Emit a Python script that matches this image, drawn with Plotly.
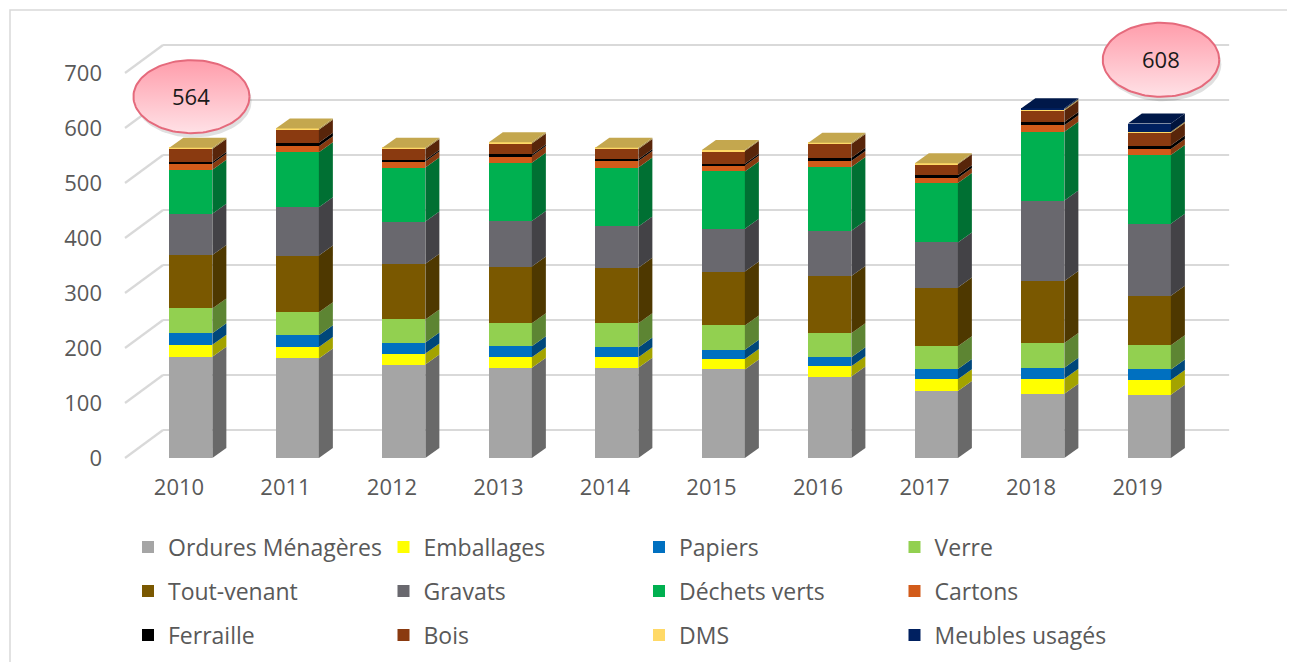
import numpy as np
import plotly.graph_objects as go

years = ["2010", "2011", "2012", "2013", "2014", "2015", "2016", "2017", "2018", "2019"]

ordures = [184, 181, 170, 164, 164, 161, 148, 122, 117, 115]
emballages = [22, 21, 20, 19, 19, 19, 19, 21, 27, 27]
papiers = [21, 21, 20, 20, 18, 17, 16, 19, 20, 19]
verre = [45, 42, 42, 42, 44, 44, 44, 41, 45, 44]
tout_venant = [97, 103, 101, 103, 101, 98, 104, 107, 113, 90]
gravats = [75, 88, 77, 83, 75, 78, 82, 82, 146, 131]
dechets_verts = [80, 100, 98, 106, 107, 104, 116, 108, 125, 125]
cartons = [11, 11, 11, 12, 12, 11, 11, 9, 12, 11]
ferraille = [3, 6, 3, 3, 3, 3, 6, 5, 6, 6]
bois = [24, 24, 20, 20, 19, 23, 25, 20, 21, 23]
dms = [2, 2, 2, 2, 2, 2, 2, 2, 2, 2]
meubles = [0, 0, 0, 0, 0, 0, 0, 0, 2, 15]

series_names = ["Ordures Ménagères", "Emballages", "Papiers", "Verre",
                "Tout-venant", "Gravats", "Déchets verts", "Cartons",
                "Ferraille", "Bois", "DMS", "Meubles usagés"]
series_values = [ordures, emballages, papiers, verre, tout_venant, gravats,
                 dechets_verts, cartons, ferraille, bois, dms, meubles]
series_colors = ["#A5A5A5", "#FFFF00", "#0070C0", "#92D050", "#7A5800", "#69686E",
                 "#00B050", "#D25B1A", "#000000", "#8A3A10", "#FFD966", "#002060"]

callout_years = ["2010", "2019"]
callout_labels = ["564", "608"]

# ---------------- geometry / style ----------------
PAGE = 8                      # default body margin of the html page
W, H = 1295 - PAGE, 662 - PAGE
ML, MT = 105 - PAGE, 12 - PAGE
MR = W - (1240 - PAGE)
MB = H - (460 - PAGE)
XR = [-0.695, 9.962]
YR = [-3.636, 810.9]
BAR_W, BAR_OFF = 0.404, -0.091
DX, DY = 0.1315, 18.2          # bar depth (x units, y units)
GX0, GX1, GY = -0.507, -0.15, 50.9   # floor/back-wall depth for grid
GRID_END = 9.86
FONT = "Open Sans"
TXT = "#595959"


def shade(hexc, f):
    h = hexc.lstrip("#")
    r, g, b = (int(h[i:i + 2], 16) for i in (0, 2, 4))
    return "#%02X%02X%02X" % (int(r * f), int(g * f), int(b * f))


idx = list(range(len(years)))
fig = go.Figure()

row_of = [1, 1, 1, 1, 2, 2, 2, 2, 3, 3, 3, 3]
for name, vals, col, row in zip(series_names, series_values, series_colors, row_of):
    fig.add_trace(go.Bar(
        x=idx, y=vals, name=name, width=BAR_W, offset=BAR_OFF,
        marker=dict(color=col, line=dict(width=0)),
        legend="legend" if row == 1 else "legend%d" % row,
        hovertemplate="%{customdata}<br>" + name + ": %{y}<extra></extra>",
        customdata=years,
    ))

shapes = []
# back-wall grid lines with floor diagonals
for v in range(0, 701, 100):
    for (xa, ya, xb, yb) in [(GX0, v, GX1, v + GY), (GX1, v + GY, GRID_END, v + GY)]:
        shapes.append(dict(type="line", xref="x", yref="y", x0=xa, y0=ya, x1=xb, y1=yb,
                           line=dict(color="#D9D9D9", width=2.2), layer="below"))

# 3D side faces and top faces of the bars
for i in idx:
    xl = i + BAR_OFF
    xr = xl + BAR_W
    base = 0.0
    top_col = None
    for vals, col in zip(series_values, series_colors):
        v = vals[i]
        if v <= 0:
            continue
        y0, y1 = base, base + v
        path = "M %f %f L %f %f L %f %f L %f %f Z" % (
            xr, y0, xr + DX, y0 + DY, xr + DX, y1 + DY, xr, y1)
        shapes.append(dict(type="path", xref="x", yref="y", path=path,
                           fillcolor=shade(col, 0.64), line=dict(width=0), layer="above"))
        base = y1
        top_col = col
    path = "M %f %f L %f %f L %f %f L %f %f Z" % (
        xl, base, xl + DX, base + DY, xr + DX, base + DY, xr, base)
    shapes.append(dict(type="path", xref="x", yref="y", path=path,
                       fillcolor=shade(top_col, 0.77), line=dict(width=0), layer="above"))

# screen pixel -> paper coordinates
px2paper_x = lambda p: (p - PAGE - ML) / (W - ML - MR)
px2paper_y = lambda p: (H - MB - (p - PAGE)) / (H - MB - MT)

# outer frame
shapes.append(dict(type="rect", xref="paper", yref="paper",
                   x0=px2paper_x(10), x1=px2paper_x(1289),
                   y0=px2paper_y(10), y1=px2paper_y(700),
                   line=dict(color="#D9D9D9", width=1.5), fillcolor="rgba(0,0,0,0)"))

# callout ellipses
callout_pos = [(0.117, 93.0, 0.545, 66.4), (0.22, 116.0, 0.547, 67.3)]
t = np.linspace(0, 2 * np.pi, 120)
annotations = []
for yr, lab, (ox, oy, rx, ry) in zip(callout_years, callout_labels, callout_pos):
    i = years.index(yr)
    total = sum(s[i] for s in series_values)
    cx, cy = i + ox, total + oy
    # shadow
    fig.add_trace(go.Scatter(x=cx + 0.02 + rx * np.cos(t), y=cy - 8 + ry * np.sin(t),
                             mode="lines", fill="toself", line=dict(width=0),
                             fillcolor="rgba(0,0,0,0.12)", showlegend=False, hoverinfo="skip"))
    fig.add_trace(go.Scatter(x=cx + rx * np.cos(t), y=cy + ry * np.sin(t),
                             mode="lines", fill="toself",
                             line=dict(color="#E56A7C", width=2),
                             fillgradient=dict(type="vertical",
                                               colorscale=[[0, "#FFE1E6"], [1, "#FF9DAB"]]),
                             showlegend=False, hoverinfo="skip"))
    annotations.append(dict(x=cx, y=cy + 2, xref="x", yref="y", text=lab, showarrow=False,
                            font=dict(family=FONT, size=22, color="#1A1A1A")))

leg_common = dict(orientation="h", xanchor="left", yanchor="middle",
                  traceorder="normal",
                  font=dict(family=FONT, size=23, color=TXT),
                  entrywidth=210.5, entrywidthmode="pixels",
                  bgcolor="rgba(0,0,0,0)", itemclick=False, itemdoubleclick=False)
legx = px2paper_x(128)

fig.update_layout(
    width=W, height=H, autosize=False,
    margin=dict(l=ML, r=MR, t=MT, b=MB, autoexpand=False),
    paper_bgcolor="white", plot_bgcolor="white",
    barmode="stack", bargap=0,
    font=dict(family=FONT, color=TXT),
    xaxis=dict(type="linear", range=XR, tickvals=idx, ticktext=years,
               showgrid=False, zeroline=False, showline=False, ticks="",
               tickfont=dict(family=FONT, size=22, color=TXT), ticklabelstandoff=12,
               fixedrange=True, automargin=False),
    yaxis=dict(range=YR, tickvals=list(range(0, 701, 100)),
               showgrid=False, zeroline=False, showline=False, ticks="",
               tickfont=dict(family=FONT, size=22, color=TXT), ticklabelstandoff=2,
               fixedrange=True, automargin=False),
    shapes=shapes,
    annotations=annotations,
    legend=dict(leg_common, x=legx, y=px2paper_y(547)),
    legend2=dict(leg_common, x=legx, y=px2paper_y(591)),
    legend3=dict(leg_common, x=legx, y=px2paper_y(635)),
)

fig.write_html("out.html")
